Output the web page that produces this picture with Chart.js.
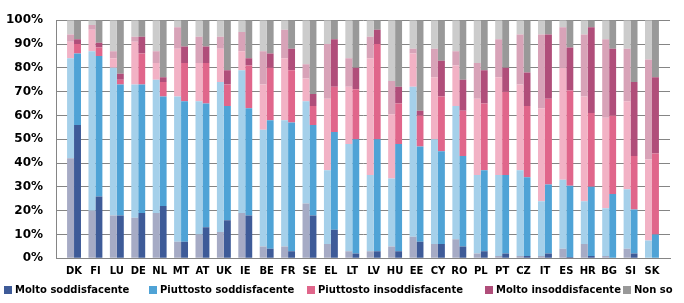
<!DOCTYPE html>
<html><head><meta charset="utf-8">
<script src="https://cdn.jsdelivr.net/npm/chart.js@4"></script>
<style>
html,body{margin:0;padding:0;background:#fff}
#wrap{width:684px;height:303px;position:relative;overflow:hidden}
#chartBox{position:absolute;left:0;top:0;width:684px;height:303px}
#legend{position:absolute;left:0;top:282px;width:684px;height:15px;font-family:'DejaVu Sans',sans-serif;font-weight:bold;font-size:10px;color:#000}
#legend .item{position:absolute;top:0;height:15px;display:flex;align-items:center;white-space:nowrap}
#legend .box{display:inline-block;width:8px;height:8px;margin-right:3px}
</style>
</head><body><div id="wrap"><div id="chartBox"><canvas id="c"></canvas></div><div id="legend"></div></div>
<script>
const countries = ['DK','FI','LU','DE','NL','MT','AT','UK','IE','BE','FR','SE','EL','LT','LV','HU','EE','CY','RO','PL','PT','CZ','IT','ES','HR','BG','SI','SK'];
const seriesNames = ['Molto soddisfacente','Piuttosto soddisfacente','Piuttosto insoddisfacente','Molto insoddisfacente','Non so'];

// Earlier survey (faded bars)
const moltoSoddPrev   = [42,20,18,17,19, 7,10,11,19, 5, 5,23, 6, 3, 3, 5, 9, 6, 8, 2, 1, 1, 1, 4, 6, 1, 4, 0];
const piuttSoddPrev   = [42,67,62,56,56,61,56,63,60,49,53,43,31,45,32,28.5,63,44,56,33,34,36,23,29,18,20,25,7.5];
const piuttInsoddPrev = [ 7, 9, 4,18, 7,20,16,14, 8,19,26,9.5,30,24,49,27,14,26,17,32,41,36,39,47,44,38,37,34];
const moltoInsoddPrev = [ 3, 2, 3, 2, 5, 9,11, 5, 8,14,12, 6,23,12, 9,14, 2,12, 6,15,16,21,31,17,26,33,22,42];
const nonSoPrev       = [ 6, 2,13, 7,13, 3, 7, 7, 5,13, 4,18.5,10,16, 7,25.5,12,12,13,18, 8, 6, 6, 3, 6, 8,12,16.5];

// Latest survey (solid bars)
const moltoSoddCurr   = [56,26,18,19,22, 7,13,16,18, 4, 3,18,12, 2, 3, 3, 7, 6, 5, 3, 2, 1, 2,0.5, 1, 0, 2, 0];
const piuttSoddCurr   = [30,59,55,54,46,59,52,48,45,54,54,38,41,48,47,45,40,39,38,34,33,33,29,30,29,27,18.5,10];
const piuttInsoddCurr = [ 4,3.5, 2,13, 6,16,17, 9,18,22,22, 8,19,21,40,17,13,23,19,28,35,30,36,40,31,33,22.5,34];
const moltoInsoddCurr = [ 2, 2,2.5, 7, 2, 7, 7, 6, 3, 6, 9, 5,20, 9, 6, 7, 2,15,13,14,10,14,27,18,36,28,31,32];
const nonSoCurr       = [ 8,9.5,22.5,7,24,11,11,21,16,14,12,31, 8,20, 4,28,38,17,25,21,20,22, 6,11.5, 3,12,26,24];

const yTickValues = [0,10,20,30,40,50,60,70,80,90,100];

const solidColors = ['#3e5b98','#4fa3d6','#e0668b','#b04e7a','#999999'];
const fadedColors = ['#a6abc5','#a5d0ea','#f2b2c5','#d8a3b8','#cccccc'];

const prevSeries = [moltoSoddPrev, piuttSoddPrev, piuttInsoddPrev, moltoInsoddPrev, nonSoPrev];
const currSeries = [moltoSoddCurr, piuttSoddCurr, piuttInsoddCurr, moltoInsoddCurr, nonSoCurr];

const toPoints = arr => arr.map((v, i) => ({x: i, y: v}));
const datasets = [];
seriesNames.forEach((name, k) => {
  datasets.push({label: name + ' (prec.)', data: toPoints(prevSeries[k]), backgroundColor: fadedColors[k], stack: 'prev', borderWidth: 0});
});
seriesNames.forEach((name, k) => {
  datasets.push({label: name, data: toPoints(currSeries[k]), backgroundColor: solidColors[k], stack: 'curr', borderWidth: 0});
});

// HTML legend (real text), one entry per series
const legendLefts = [4, 149, 307, 485, 623];
const legendEl = document.getElementById('legend');
seriesNames.forEach((name, k) => {
  const it = document.createElement('div');
  it.className = 'item';
  it.style.left = legendLefts[k] + 'px';
  const b = document.createElement('span');
  b.className = 'box';
  b.style.background = solidColors[k];
  const t = document.createElement('span');
  t.textContent = name;
  it.appendChild(b); it.appendChild(t);
  legendEl.appendChild(it);
});

const FONT = "'DejaVu Sans', sans-serif";

new Chart(document.getElementById('c'), {
  type: 'bar',
  data: {datasets},
  options: {
    responsive: true,
    maintainAspectRatio: false,
    animation: false,
    categoryPercentage: 0.65,
    barPercentage: 1.0,
    layout: {padding: {top: 15, right: 14, left: 0, bottom: 24.7}},
    plugins: {
      tooltip: {enabled: false},
      legend: {display: false}
    },
    scales: {
      x: {
        type: 'linear',
        stacked: true,
        min: -0.33, max: 27.33,
        afterBuildTicks: s => { s.ticks = countries.map((_, i) => ({value: i})); },
        afterFit: s => { s.height = 20; },
        grid: {display: false, drawTicks: false},
        border: {display: true, color: '#858585', width: 1},
        ticks: {
          autoSkip: false, maxRotation: 0, padding: 7,
          color: '#000',
          font: {family: FONT, size: 10, weight: 'bold'},
          callback: v => countries[v] ?? ''
        }
      },
      y: {
        stacked: true,
        min: 0, max: 100,
        afterBuildTicks: s => { s.ticks = yTickValues.map(v => ({value: v})); },
        afterFit: s => { s.width = 56; },
        grid: {color: '#858585', lineWidth: 1, drawTicks: false},
        border: {display: true, color: '#858585', width: 1},
        ticks: {
          padding: 13,
          color: '#000',
          font: {family: FONT, size: 12, weight: 'bold'},
          callback: v => v + '%'
        }
      }
    }
  }
});
</script>
</body></html>
